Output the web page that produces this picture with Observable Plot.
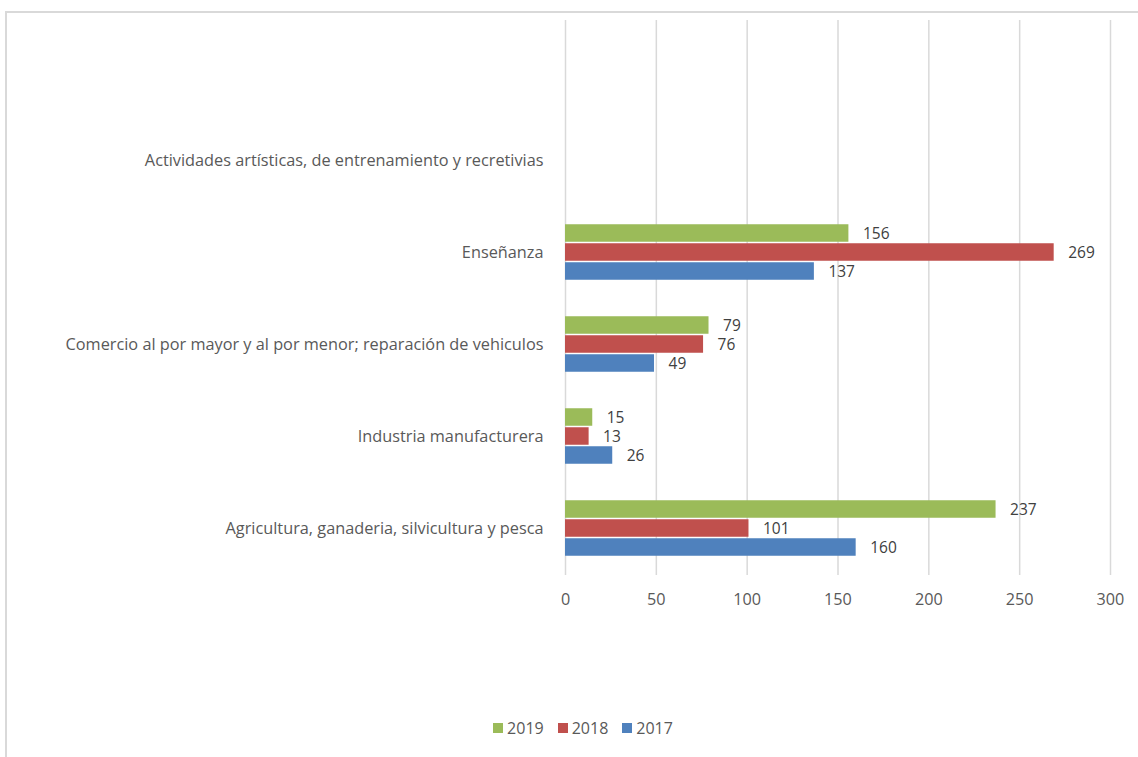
<!DOCTYPE html>
<html>
<head>
<meta charset="utf-8">
<script src="https://cdn.jsdelivr.net/npm/d3@7"></script>
<script src="https://cdn.jsdelivr.net/npm/@observablehq/plot@0.6"></script>
<style>
  html, body { margin: 0; padding: 0; background: #fff; overflow: hidden; }
  #frame { position: absolute; left: 5px; top: 11px; width: 1200px; height: 800px; border: 2px solid #d9d9d9; box-sizing: border-box; }
  #chart { position: absolute; left: 0; top: 0; }
  #legend { position: absolute; top: 717px; left: 0; width: 1166px; display: flex; justify-content: center; gap: 14px;
            font-family: "Open Sans", sans-serif; font-size: 16px; color: #595959; }
  .item { display: flex; align-items: center; gap: 4px; }
  .sw { width: 10px; height: 10px; display: inline-block; }
</style>
</head>
<body>
<div id="frame"></div>
<div id="chart"></div>
<div id="legend"></div>
<script>
const categories = [
  "Agricultura, ganaderia, silvicultura y pesca",
  "Industria manufacturera",
  "Comercio al por mayor y al por menor; reparación de vehiculos",
  "Enseñanza",
  "Actividades artísticas, de entrenamiento y recretivias"
];
const series = ["2019", "2018", "2017"];
const v2019 = [237, 15, 79, 156, null];
const v2018 = [101, 13, 76, 269, null];
const v2017 = [160, 26, 49, 137, null];
const colors = ["#9BBB59", "#C0504D", "#4F81BD"];
const xTicks = [0, 50, 100, 150, 200, 250, 300];

const valuesBySeries = [v2019, v2018, v2017];
const data = [];
series.forEach((s, si) => {
  categories.forEach((c, ci) => {
    const v = valuesBySeries[si][ci];
    if (v != null) data.push({ category: c, series: s, value: v });
  });
});

const yDomain = [" ", ...categories.slice().reverse()];
const barH = 19;
const step = 92.5;
const inset = (step - barH) / 2;
const offsets = { "2019": -barH, "2018": 0, "2017": barH };

const marks = [
  Plot.gridX(xTicks, { stroke: "#d9d9d9", strokeOpacity: 1, strokeWidth: 1.5 }),
  Plot.axisX(xTicks, { tickSize: 0, tickPadding: 18, fontSize: 16.2, fill: "#595959", label: null }),
  Plot.axisY({ tickSize: 0, tickPadding: 22, fontSize: 16.3, fill: "#595959", label: null })
];
series.forEach((s, si) => {
  const d = data.filter(r => r.series === s);
  marks.push(Plot.barX(d, {
    x: "value", y: "category", fill: colors[si], dy: offsets[s],
    insetTop: inset + 0.5, insetBottom: inset + 0.5
  }));
  marks.push(Plot.text(d, {
    x: "value", y: "category", text: d => String(d.value), dy: offsets[s] + 1,
    dx: 14, textAnchor: "start", fontSize: 15.5, fill: "#404040"
  }));
});

const chart = Plot.plot({
  width: 1138,
  height: 757,
  marginLeft: 565,
  marginRight: 28,
  marginTop: 20,
  marginBottom: 182,
  style: { fontFamily: "'Open Sans', sans-serif", background: "transparent" },
  x: { domain: [0, 300], axis: null, label: null },
  y: { domain: yDomain, padding: 0, axis: null, label: null },
  marks
});
document.getElementById("chart").appendChild(chart);

const legend = document.getElementById("legend");
series.forEach((s, si) => {
  const it = document.createElement("span");
  it.className = "item";
  const sw = document.createElement("span");
  sw.className = "sw";
  sw.style.background = colors[si];
  it.appendChild(sw);
  it.appendChild(document.createTextNode(s));
  legend.appendChild(it);
});
</script>
</body>
</html>
